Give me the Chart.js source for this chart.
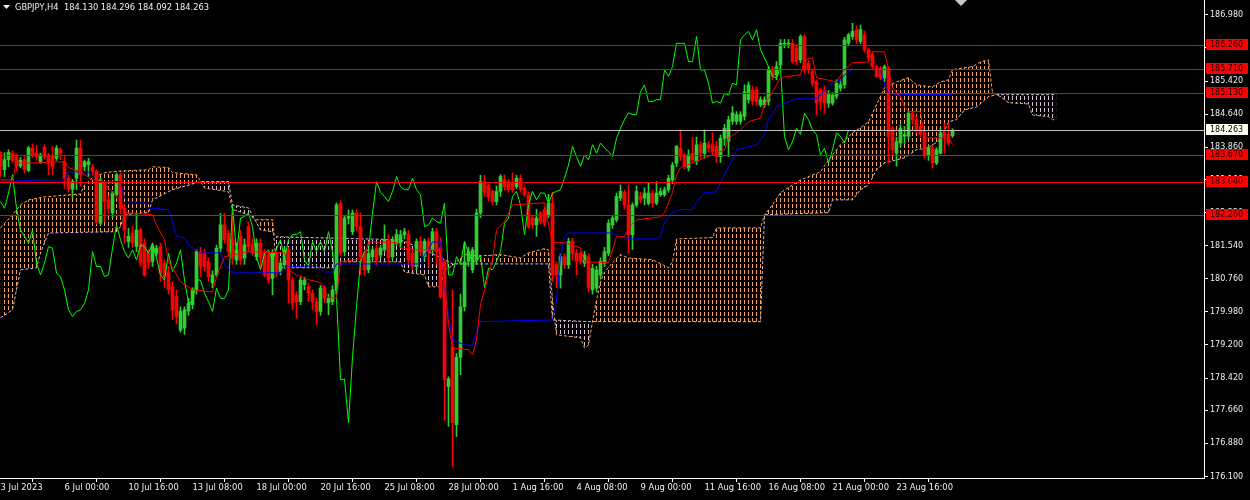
<!DOCTYPE html>
<html>
<head>
<meta charset="utf-8">
<title>GBPJPY,H4</title>
<script src="https://cdn.jsdelivr.net/npm/chart.js@4.4.0/dist/chart.umd.min.js"></script>
<style>
  html, body { margin: 0; padding: 0; background: #000; }
  canvas { display: block; }
</style>
</head>
<body>
<canvas id="chart" width="1250" height="500"></canvas>
<script>
// GBPJPY H4 candles, bar 0 = 3 Jul 2023, one bar = 4 hours
var opens = [
  183.74,183.33,183.57,183.72,183.64,183.42,183.57,183.31,183.84,183.72,
  183.52,183.86,183.64,183.66,183.60,183.80,183.52,183.13,182.87,183.13,
  183.84,183.40,183.45,183.40,183.29,182.07,183.01,182.62,182.31,182.74,
  183.21,182.42,181.64,181.84,181.52,181.91,181.60,181.36,181.17,181.36,
  181.52,181.13,180.93,180.58,180.34,179.55,179.60,180.00,180.15,180.50,
  181.40,181.36,181.17,180.66,180.85,181.48,182.03,181.83,181.68,181.20,
  181.76,181.25,181.99,181.56,181.28,181.60,181.36,181.32,180.77,181.36,
  180.93,181.09,181.44,180.73,180.38,180.22,180.62,180.58,180.42,180.22,
  179.99,180.54,180.19,180.22,180.50,182.54,181.40,182.19,181.87,182.31,
  181.99,181.32,180.97,181.28,181.48,181.32,181.44,181.68,181.28,181.60,
  181.60,181.80,181.80,181.36,181.05,181.64,181.28,181.64,181.44,181.87,
  181.49,181.16,178.22,179.16,177.32,178.91,180.10,181.17,180.97,181.20,
  182.31,183.05,182.97,182.82,182.58,182.82,183.09,183.05,183.01,182.93,
  183.13,182.90,182.74,182.19,182.03,182.31,182.39,182.27,182.54,181.09,
  180.85,181.28,181.09,181.64,181.36,181.36,181.13,181.28,180.50,180.54,
  180.85,181.13,181.36,182.03,182.15,182.66,182.80,182.50,181.80,182.50,
  182.70,182.66,182.54,182.78,182.54,182.74,182.74,182.86,183.09,183.48,
  183.84,183.68,183.37,183.72,183.52,183.92,183.72,183.92,183.92,183.88,
  183.64,184.07,184.00,184.47,184.47,184.47,184.59,184.98,185.21,185.21,
  184.86,184.86,184.94,185.68,185.56,185.80,186.29,186.29,186.31,186.20,
  185.92,186.47,185.84,185.64,185.41,185.21,185.21,184.90,184.90,185.06,
  185.25,185.33,186.31,186.47,186.63,186.35,186.51,186.16,186.04,185.76,
  185.72,185.49,185.72,184.31,183.72,183.96,184.12,184.12,184.66,184.51,
  184.35,184.20,183.68,183.84,183.49,183.72,184.20,184.16,184.130
];
var highs = [
  183.76,183.73,183.80,183.78,183.70,183.62,183.64,183.88,183.94,183.90,
  183.72,183.92,183.72,183.88,183.90,183.84,183.64,183.20,183.10,184.03,
  184.03,183.56,183.60,183.45,183.33,183.13,183.05,182.70,182.82,183.25,
  183.25,182.50,181.95,182.00,182.30,181.95,181.70,181.45,181.60,181.55,
  181.60,181.20,181.05,180.70,180.50,180.10,180.10,180.30,180.55,181.45,
  181.50,181.45,181.25,180.95,181.55,182.30,182.30,181.90,182.30,181.60,
  181.90,181.70,182.10,181.70,181.70,181.70,181.45,181.40,181.45,181.40,
  181.20,181.50,181.50,180.80,180.45,180.80,180.80,180.65,180.50,180.30,
  180.60,180.60,180.40,180.60,182.55,182.60,182.25,182.38,182.38,182.38,
  182.31,181.40,181.45,181.50,181.55,181.55,182.03,181.80,181.75,181.92,
  181.90,181.95,181.90,181.45,181.70,181.75,181.70,181.72,181.95,181.95,
  181.72,181.20,178.45,180.50,179.00,180.40,181.61,181.50,181.50,182.40,
  183.20,183.20,183.00,182.85,182.95,183.21,183.21,183.10,183.25,183.20,
  183.21,182.95,182.80,182.25,182.40,182.35,182.45,182.75,182.80,181.15,
  181.35,181.35,181.72,181.72,181.45,181.40,181.40,181.35,181.10,181.05,
  181.25,181.50,182.15,182.25,182.78,182.97,182.85,182.97,182.55,182.95,
  182.80,182.90,183.01,182.85,183.05,182.90,182.92,183.20,183.50,183.90,
  184.27,183.72,183.80,184.10,184.10,184.00,184.27,184.00,184.20,184.00,
  184.15,184.40,184.59,184.82,184.70,184.70,185.33,185.40,185.30,185.28,
  185.05,185.05,185.76,185.76,185.88,186.40,186.40,186.40,186.40,186.28,
  186.51,186.51,185.90,185.70,185.45,185.25,185.30,185.20,185.15,185.45,
  185.45,186.45,186.55,186.78,186.72,186.74,186.60,186.20,186.10,185.80,
  185.76,185.80,185.76,184.35,184.10,184.39,184.35,184.70,184.70,184.58,
  184.40,184.25,183.90,183.90,183.85,184.31,184.43,184.43,184.296
];
var lows = [
  183.17,183.17,183.40,183.50,183.30,183.38,183.25,183.28,183.62,183.55,
  183.48,183.58,183.21,183.21,183.55,183.57,182.89,182.80,182.66,182.86,
  182.94,183.30,183.17,183.20,182.05,182.03,182.10,182.30,182.20,182.70,
  182.30,181.60,181.50,181.50,181.40,181.05,180.82,181.00,181.05,181.30,
  180.70,180.55,180.40,179.80,179.70,179.50,179.45,179.90,180.05,180.40,
  180.80,180.95,180.70,180.55,180.80,181.40,181.60,181.30,181.10,181.10,
  181.10,181.10,181.40,181.30,181.20,181.05,180.80,180.66,180.38,180.80,
  180.85,181.00,180.19,180.03,179.83,180.15,180.50,180.22,180.03,179.68,
  179.90,180.20,179.91,180.15,180.40,181.30,181.30,182.05,181.80,181.90,
  180.85,180.85,180.90,181.20,181.10,181.25,181.40,181.15,181.20,181.55,
  181.50,181.70,181.10,180.97,180.97,181.30,181.20,181.05,181.35,181.10,
  180.30,177.42,177.28,176.33,177.04,178.50,180.00,181.05,180.90,181.10,
  182.20,182.70,182.60,182.50,182.50,182.70,182.85,182.80,182.80,182.88,
  182.80,182.70,181.95,181.95,181.76,182.05,182.00,182.20,180.70,180.55,
  180.54,181.00,181.00,181.20,180.85,181.10,181.05,180.45,180.40,180.45,
  180.75,181.05,181.30,181.95,182.10,182.60,182.40,181.36,181.45,182.45,
  182.55,182.50,182.50,182.45,182.50,182.70,182.70,182.80,183.00,183.40,
  183.55,183.35,183.30,183.50,183.45,183.60,183.60,183.75,183.70,183.50,
  183.50,183.90,183.64,184.40,184.40,184.40,184.50,184.90,184.85,184.85,
  184.82,184.80,184.85,185.45,185.45,185.75,186.20,186.20,185.84,185.80,
  185.85,185.60,185.60,185.30,184.62,184.74,184.66,184.80,184.85,185.00,
  185.18,185.25,186.25,186.40,186.30,186.30,186.10,185.88,185.70,185.50,
  185.45,185.40,183.49,183.68,183.41,183.87,183.95,184.05,184.40,184.20,
  184.10,183.60,183.55,183.37,183.45,183.70,183.72,183.90,184.092
];
var closes = [
  183.41,183.57,183.74,183.55,183.41,183.55,183.33,183.84,183.68,183.64,
  183.68,183.64,183.52,183.40,183.84,183.72,183.13,182.87,183.05,183.84,
  183.21,183.52,183.52,183.29,182.10,183.09,182.58,182.42,182.78,183.21,
  182.42,181.91,181.76,181.60,181.91,181.13,180.85,181.13,181.52,181.48,
  180.89,180.81,180.50,180.03,179.87,179.99,180.03,180.18,180.50,181.40,
  181.05,181.05,180.81,180.85,181.48,182.03,181.68,181.40,181.25,181.44,
  181.20,181.56,181.52,181.36,181.60,181.25,180.85,180.73,181.36,180.93,
  181.13,181.44,180.73,180.19,180.22,180.73,180.73,180.42,180.22,179.99,
  180.54,180.30,180.30,180.50,182.50,181.36,182.19,182.23,182.31,181.99,
  181.28,180.97,181.36,181.44,181.20,181.48,181.68,181.25,181.68,181.80,
  181.80,181.87,181.20,181.05,181.64,181.40,181.64,181.40,181.87,181.40,
  180.33,178.38,178.40,177.37,178.91,180.10,181.16,181.40,181.44,182.31,
  183.05,182.80,182.70,182.58,182.82,183.17,182.93,182.86,182.86,183.13,
  182.86,182.74,181.99,182.03,182.19,182.11,182.07,182.54,180.85,180.85,
  181.28,181.09,181.64,181.36,181.17,181.17,181.32,180.54,181.01,180.97,
  181.17,181.40,182.07,182.19,182.70,182.82,182.50,181.80,182.50,182.82,
  182.62,182.78,182.78,182.54,182.78,182.82,182.86,183.13,183.44,183.88,
  183.64,183.41,183.68,183.56,183.92,183.72,183.96,183.84,183.76,183.64,
  184.07,184.31,184.51,184.67,184.63,184.63,185.17,185.33,184.94,184.94,
  184.98,184.98,185.68,185.53,185.76,186.31,186.31,186.31,185.88,185.88,
  186.47,185.68,185.68,185.37,184.90,184.94,184.90,185.13,185.09,185.37,
  185.33,186.39,186.51,186.59,186.39,186.63,186.16,185.96,185.76,185.53,
  185.49,185.76,184.11,183.80,183.99,184.31,184.16,184.66,184.51,184.27,
  184.16,183.68,183.84,183.49,183.80,184.20,184.12,183.96,184.263
];

// Ichimoku lines as [bar, price] vertices
var tenkan = [
  [0,183.09],[3,183.09],[4,183.49],[8,183.49],[16,183.52],[17,183.38],[20,183.28],[23,183.09],
  [25,183.09],[30,182.62],[31,182.32],[38,182.27],[39,182.03],[41,181.68],[42,181.16],[43,181.02],
  [45,180.69],[48,180.50],[53,180.45],[54,180.81],[56,181.28],[62,181.40],[71,181.37],[72,180.97],
  [74,180.85],[77,180.74],[80,180.67],[81,180.50],[82,180.31],[84,180.31],[85,181.16],[91,181.25],
  [92,181.63],[99,181.61],[100,181.49],[104,181.44],[110,181.44],[111,180.69],[112,179.68],[113,179.13],
  [117,179.09],[118,178.97],[119,179.32],[120,180.15],[121,180.50],[123,181.21],[124,181.91],[126,182.10],
  [128,182.50],[136,182.55],[137,182.03],[138,181.61],[141,181.61],[145,181.49],[146,181.16],[152,181.14],
  [153,181.44],[154,181.75],[156,181.75],[157,181.96],[159,182.15],[165,182.22],[166,182.32],[168,182.79],
  [169,183.21],[170,183.38],[173,183.49],[176,183.61],[181,183.80],[182,184.08],[185,184.27],[187,184.46],
  [190,184.55],[191,184.86],[193,185.17],[195,185.50],[200,185.57],[201,185.92],[203,185.97],[204,185.50],
  [209,185.40],[211,185.69],[213,185.85],[217,185.87],[218,186.11],[221,186.11],[222,185.69],[223,185.26],
  [225,185.05],[226,184.81],[227,184.70],[230,184.70],[231,184.08],[237,184.08],[238,183.92]
];
var kijun = [
  [0,183.05],[11,183.09],[16,183.09],[17,183.28],[22,183.28],[23,183.14],[24,183.05],[30,183.05],
  [31,182.67],[32,182.57],[36,182.57],[37,182.43],[42,182.39],[43,182.10],[44,181.75],[46,181.73],
  [47,181.56],[50,181.37],[55,181.37],[56,181.09],[58,180.90],[70,180.90],[71,181.04],[79,181.07],
  [80,180.97],[81,180.92],[83,180.92],[84,181.11],[105,181.11],[106,181.33],[107,181.44],[108,181.63],
  [110,181.63],[111,180.57],[112,179.91],[113,179.32],[116,179.20],[118,179.20],[119,179.50],[120,179.75],
  [138,179.79],[139,180.26],[140,181.28],[141,181.75],[142,181.84],[153,181.84],[155,181.75],
  [158,181.70],[164,181.70],[165,181.75],[166,182.10],[168,182.32],[170,182.39],[173,182.39],[174,182.55],
  [176,182.79],[179,182.81],[180,183.02],[182,183.40],[183,183.56],[184,183.80],[186,183.85],[189,183.92],
  [190,184.04],[191,184.15],[192,184.51],[194,184.81],[195,184.86],[197,184.93],[199,185.00],[204,185.00],
  [205,185.10],[206,185.21],[208,185.40],[210,185.43],[211,185.57],[213,185.69],[220,185.69],[221,185.33],
  [222,185.14],[224,185.10],[238,185.10]
];
var spanA = [
  [0,181.96],[3,182.27],[5,182.50],[7,182.62],[11,182.69],[20,182.76],[21,182.97],[23,183.14],
  [26,183.26],[30,183.30],[37,183.33],[38,183.40],[42,183.38],[43,183.26],[49,183.21],[50,183.05],
  [51,182.90],[57,182.81],[58,182.39],[62,182.27],[64,182.15],[68,182.15],[69,181.02],[84,181.02],
  [85,181.16],[100,181.16],[101,180.92],[106,180.85],[107,180.57],[110,180.57],[111,180.97],[113,181.07],
  [116,181.33],[120,181.30],[125,181.33],[130,181.25],[132,181.37],[136,181.47],[137,181.44],[138,180.26],
  [139,179.44],[145,179.37],[146,179.13],[147,179.20],[148,179.75],[149,180.26],[150,180.69],[151,180.92],
  [153,181.14],[155,181.33],[157,181.25],[163,181.21],[167,181.02],[168,181.16],[169,181.70],[178,181.73],
  [179,181.96],[190,181.96],[191,182.27],[193,182.50],[195,182.79],[200,183.09],[205,183.28],[207,183.56],
  [210,183.92],[213,184.20],[215,184.32],[217,184.46],[219,184.86],[221,185.26],[224,185.40],[227,185.50],
  [229,185.33],[233,185.28],[235,185.40],[237,185.45],[238,185.69],[243,185.76],[245,185.87],[247,185.92],
  [248,185.14],[249,185.10],[250,185.05],[252,184.91],[257,184.88],[258,184.62],[262,184.58],[263,184.51],
  [264,184.51]
];
var spanB = [
  [0,179.84],[3,180.03],[4,180.50],[5,180.97],[9,181.02],[10,181.37],[12,181.84],[29,181.87],
  [30,181.99],[31,182.27],[37,182.32],[38,182.62],[43,182.86],[50,183.05],[57,183.05],[58,182.50],
  [62,182.43],[65,181.91],[68,181.87],[69,181.75],[100,181.68],[106,181.44],[110,181.26],[113,181.11],
  [137,181.11],[138,179.79],[147,179.75],[190,179.75],[191,182.27],[207,182.32],[208,182.62],[213,182.62],
  [215,182.86],[217,182.97],[219,183.33],[221,183.49],[226,183.61],[229,183.80],[232,183.85],[235,184.04],
  [237,184.46],[239,184.51],[241,184.74],[244,184.81],[247,185.05],[249,185.10],[264,185.10]
];

// axes and horizontal lines
var tickBars = [0, 16, 32, 48, 64, 80, 96, 112, 128, 144, 160, 176, 192, 208, 224];
var tickLabels = ['3 Jul 2023', '6 Jul 00:00', '10 Jul 16:00', '13 Jul 08:00', '18 Jul 00:00',
  '20 Jul 16:00', '25 Jul 08:00', '28 Jul 00:00', '1 Aug 16:00', '4 Aug 08:00', '9 Aug 00:00',
  '11 Aug 16:00', '16 Aug 08:00', '21 Aug 00:00', '23 Aug 16:00'];
var priceTicks = [176.100, 176.880, 177.660, 178.420, 179.200, 179.980, 180.760, 181.540,
  182.320, 183.100, 183.860, 184.640, 185.420, 186.200, 186.980];
var levels = [186.260, 185.710, 185.130, 183.670, 183.040, 182.260];
var bidPrice = 184.263;
var titleText = 'GBPJPY,H4  184.130 184.296 184.092 184.263';

var BULL = '#32cd32';
var BEAR = '#ff0000';
var FONT = "'DejaVu Sans', Verdana, sans-serif";
var TEXT = '#f0f0f0';

var canvas = document.getElementById('chart');
var ctx = canvas.getContext('2d');

// dotted column hatching used by the cloud
function hatch(color) {
  var tile = document.createElement('canvas');
  tile.width = 4;
  tile.height = 6;
  var g = tile.getContext('2d');
  g.fillStyle = color;
  g.fillRect(0, 0, 1, 4);
  return ctx.createPattern(tile, 'repeat');
}

function pts(list) {
  return list.map(function(p) { return {x: p[0], y: p[1]}; });
}

function candleColor(c) {
  var i = c.dataIndex;
  return closes[i] >= opens[i] ? BULL : BEAR;
}

var bodies = [], wicks = [];
for (var i = 0; i < closes.length; i++) {
  bodies.push({x: i, y: [opens[i], closes[i]]});
  wicks.push({x: i, y: [lows[i], highs[i]]});
}
var chikou = closes.slice(26).map(function(c, k) { return {x: k, y: c}; });

var overlay = {
  id: 'overlay',
  afterDatasetsDraw: function(chart) {
    var g = chart.ctx, area = chart.chartArea, y = chart.scales.y;
    g.save();
    g.lineWidth = 1;
    g.strokeStyle = '#c0c0c0';
    var by = Math.round(y.getPixelForValue(bidPrice)) + 0.5;
    g.beginPath(); g.moveTo(area.left, by); g.lineTo(area.right, by); g.stroke();
    g.strokeStyle = '#ff0000';
    levels.forEach(function(v) {
      var py = Math.round(y.getPixelForValue(v)) + 0.5;
      g.beginPath(); g.moveTo(area.left, py); g.lineTo(area.right, py); g.stroke();
    });
    g.restore();
  },
  afterDraw: function(chart) {
    var g = chart.ctx, area = chart.chartArea, y = chart.scales.y;
    g.save();
    g.font = '8px ' + FONT;
    g.textBaseline = 'middle';
    g.textAlign = 'left';

    // price tags on the right axis
    levels.forEach(function(v) {
      var py = Math.round(y.getPixelForValue(v));
      g.fillStyle = '#ff0000';
      g.fillRect(area.right + 2, py - 6, 42, 11);
      g.fillStyle = '#200000';
      g.fillText(v.toFixed(3), area.right + 6, py);
    });
    var by = Math.round(y.getPixelForValue(bidPrice));
    g.fillStyle = '#fffff0';
    g.fillRect(area.right + 2, by - 6, 42, 11);
    g.fillStyle = '#000000';
    g.fillText(bidPrice.toFixed(3), area.right + 6, by);

    // title
    g.font = '8.3px ' + FONT;
    g.fillStyle = TEXT;
    g.beginPath(); g.moveTo(3, 5); g.lineTo(10, 5); g.lineTo(6.5, 9); g.closePath(); g.fill();
    g.fillText(titleText, 15, 7.5);

    // shift marker at the top
    g.fillStyle = '#c8c8c8';
    g.beginPath(); g.moveTo(955, 0); g.lineTo(967, 0); g.lineTo(961, 6); g.closePath(); g.fill();
    g.restore();
  }
};

new Chart(ctx, {
  type: 'bar',
  data: {
    datasets: [
      {
        type: 'line', data: pts(spanB), borderColor: '#d8bfd8', borderWidth: 1,
        borderDash: [3, 2], pointRadius: 0, fill: false, order: 10
      },
      {
        type: 'line', data: pts(spanA), borderColor: '#f4a460', borderWidth: 1,
        borderDash: [3, 2], pointRadius: 0, order: 9,
        fill: {target: 0, above: hatch('#f4a460'), below: hatch('#d8bfd8')}
      },
      {
        data: wicks, backgroundColor: candleColor, barThickness: 1, order: 8
      },
      {
        data: bodies, backgroundColor: candleColor, barThickness: 3, minBarLength: 1, order: 7
      },
      {
        type: 'line', data: chikou, borderColor: '#00ff00', borderWidth: 1,
        pointRadius: 0, fill: false, order: 3
      },
      {
        type: 'line', data: pts(kijun), borderColor: '#0000ff', borderWidth: 1,
        pointRadius: 0, fill: false, order: 2
      },
      {
        type: 'line', data: pts(tenkan), borderColor: '#ff0000', borderWidth: 1,
        pointRadius: 0, fill: false, order: 1
      }
    ]
  },
  options: {
    responsive: false,
    animation: false,
    devicePixelRatio: 1,
    layout: {padding: 0},
    datasets: {
      bar: {grouped: false, borderWidth: 0},
      line: {tension: 0}
    },
    plugins: {
      legend: {display: false},
      tooltip: {enabled: false},
      filler: {propagate: false}
    },
    scales: {
      x: {
        type: 'linear',
        min: -0.125,
        max: 300.875,
        bounds: 'data',
        offset: false,
        afterBuildTicks: function(scale) {
          scale.ticks = tickBars.map(function(v) { return {value: v}; });
        },
        afterFit: function(scale) {
          scale.height = 22;
          scale.paddingLeft = 0;
          scale.paddingRight = 0;
        },
        ticks: {
          autoSkip: false,
          maxRotation: 0,
          align: 'start',
          padding: 1,
          color: TEXT,
          font: {family: FONT, size: 8.4},
          callback: function(v) {
            var k = tickBars.indexOf(v);
            return k >= 0 ? tickLabels[k] : '';
          }
        },
        grid: {drawOnChartArea: false, drawTicks: true, tickLength: 4, color: '#ffffff'},
        border: {display: true, color: '#ffffff'}
      },
      y: {
        type: 'linear',
        position: 'right',
        min: 176.065,
        max: 187.33,
        bounds: 'data',
        afterBuildTicks: function(scale) {
          scale.ticks = priceTicks.map(function(v) { return {value: v}; });
        },
        afterFit: function(scale) {
          scale.width = 46;
          scale.paddingTop = 0;
          scale.paddingBottom = 0;
        },
        ticks: {
          padding: 2,
          color: TEXT,
          font: {family: FONT, size: 8},
          callback: function(v) { return v.toFixed(3); }
        },
        grid: {drawOnChartArea: false, drawTicks: true, tickLength: 4, color: '#ffffff'},
        border: {display: true, color: '#ffffff'}
      }
    }
  },
  plugins: [overlay]
});
</script>
</body>
</html>
